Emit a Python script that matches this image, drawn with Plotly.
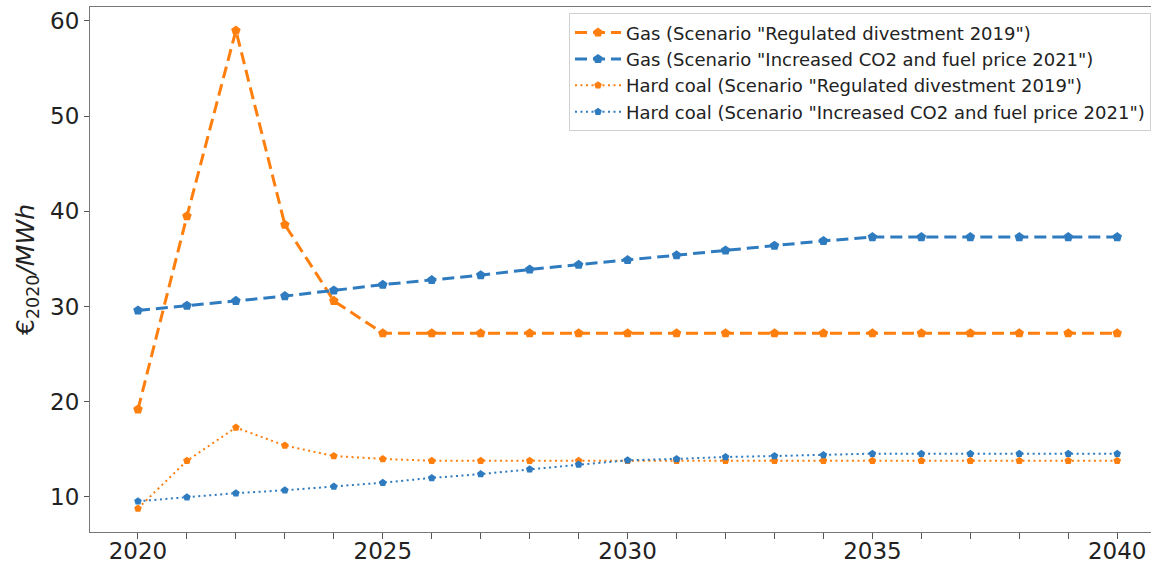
import plotly.graph_objects as go

years = list(range(2020, 2041))

gas_regulated = [19.2, 39.5, 59.0, 38.6, 30.6, 27.2, 27.2, 27.2, 27.2, 27.2, 27.2,
                 27.2, 27.2, 27.2, 27.2, 27.2, 27.2, 27.2, 27.2, 27.2, 27.2]
gas_increased = [29.6, 30.1, 30.6, 31.1, 31.7, 32.3, 32.8, 33.3, 33.9, 34.4, 34.9,
                 35.4, 35.9, 36.4, 36.9, 37.3, 37.3, 37.3, 37.3, 37.3, 37.3]
coal_regulated = [8.8, 13.8, 17.3, 15.4, 14.3, 14.0, 13.8, 13.8, 13.8, 13.8, 13.8,
                  13.8, 13.8, 13.8, 13.8, 13.8, 13.8, 13.8, 13.8, 13.8, 13.8]
coal_increased = [9.55, 9.97, 10.4, 10.7, 11.1, 11.5, 12.0, 12.4, 12.9, 13.4, 13.85,
                  14.0, 14.2, 14.3, 14.4, 14.55, 14.55, 14.55, 14.55, 14.55, 14.55]

series_names = [
    'Gas (Scenario "Regulated divestment 2019")',
    'Gas (Scenario "Increased CO2 and fuel price 2021")',
    'Hard coal (Scenario "Regulated divestment 2019")',
    'Hard coal (Scenario "Increased CO2 and fuel price 2021")',
]

ORANGE = "#ff7f0e"
BLUE = "#2f7bbf"

fig = go.Figure()
styles = [
    (gas_regulated, ORANGE, "12px,6px", 3, 10),
    (gas_increased, BLUE, "12px,6px", 3, 10),
    (coal_regulated, ORANGE, "2px,3.5px", 2, 8),
    (coal_increased, BLUE, "2px,3.5px", 2, 8),
]
for i, (name, (vals, col, dash, lw, ms)) in enumerate(zip(series_names, styles)):
    fig.add_trace(go.Scatter(
        x=years, y=vals, name=name, mode="lines+markers", legendgroup=f"g{i}",
        line=dict(color=col, width=lw, dash=dash),
        marker=dict(symbol="pentagon", size=ms, color=col),
    ))

ticktext = [str(y) if y % 5 == 0 else "" for y in years]

fig.update_layout(
    width=1151, height=562,
    margin=dict(l=90, r=0, t=7, b=30),
    paper_bgcolor="white", plot_bgcolor="white",
    font=dict(family="DejaVu Sans", color="#222222"),
    showlegend=True,
    legend=dict(
        x=0.4515, y=0.988, xanchor="left", yanchor="top",
        bgcolor="rgba(255,255,255,0.9)", bordercolor="#d0d0d0", borderwidth=1,
        font=dict(size=18, family="DejaVu Sans", color="#222222"),
        tracegroupgap=0, itemwidth=46,
    ),
    xaxis=dict(
        range=[2019.02, 2040.69], tickmode="array", tickvals=years, ticktext=ticktext,
        ticks="outside", ticklen=6, tickcolor="#555555", ticklabelstandoff=-8,
        tickfont=dict(size=23, family="DejaVu Sans", color="#222222"),
        showgrid=False, zeroline=False, automargin=False,
        showline=True, linecolor="#777777", linewidth=1, mirror=True,
    ),
    yaxis=dict(
        range=[6.32, 61.47], tickvals=[10, 20, 30, 40, 50, 60],
        ticks="outside", ticklen=5, tickcolor="#555555",
        tickfont=dict(size=23, family="DejaVu Sans", color="#222222"),
        showgrid=False, zeroline=False, automargin=False,
        showline=True, linecolor="#777777", linewidth=1, mirror=False,
        title=dict(text="€<sub>2020</sub><i>/MWh</i>",
                   font=dict(size=25, family="DejaVu Sans", color="#222222"),
                   standoff=8),
    ),
)

fig.write_html("out.html", config={"displayModeBar": False},
               post_script="document.body.style.margin='0';")
